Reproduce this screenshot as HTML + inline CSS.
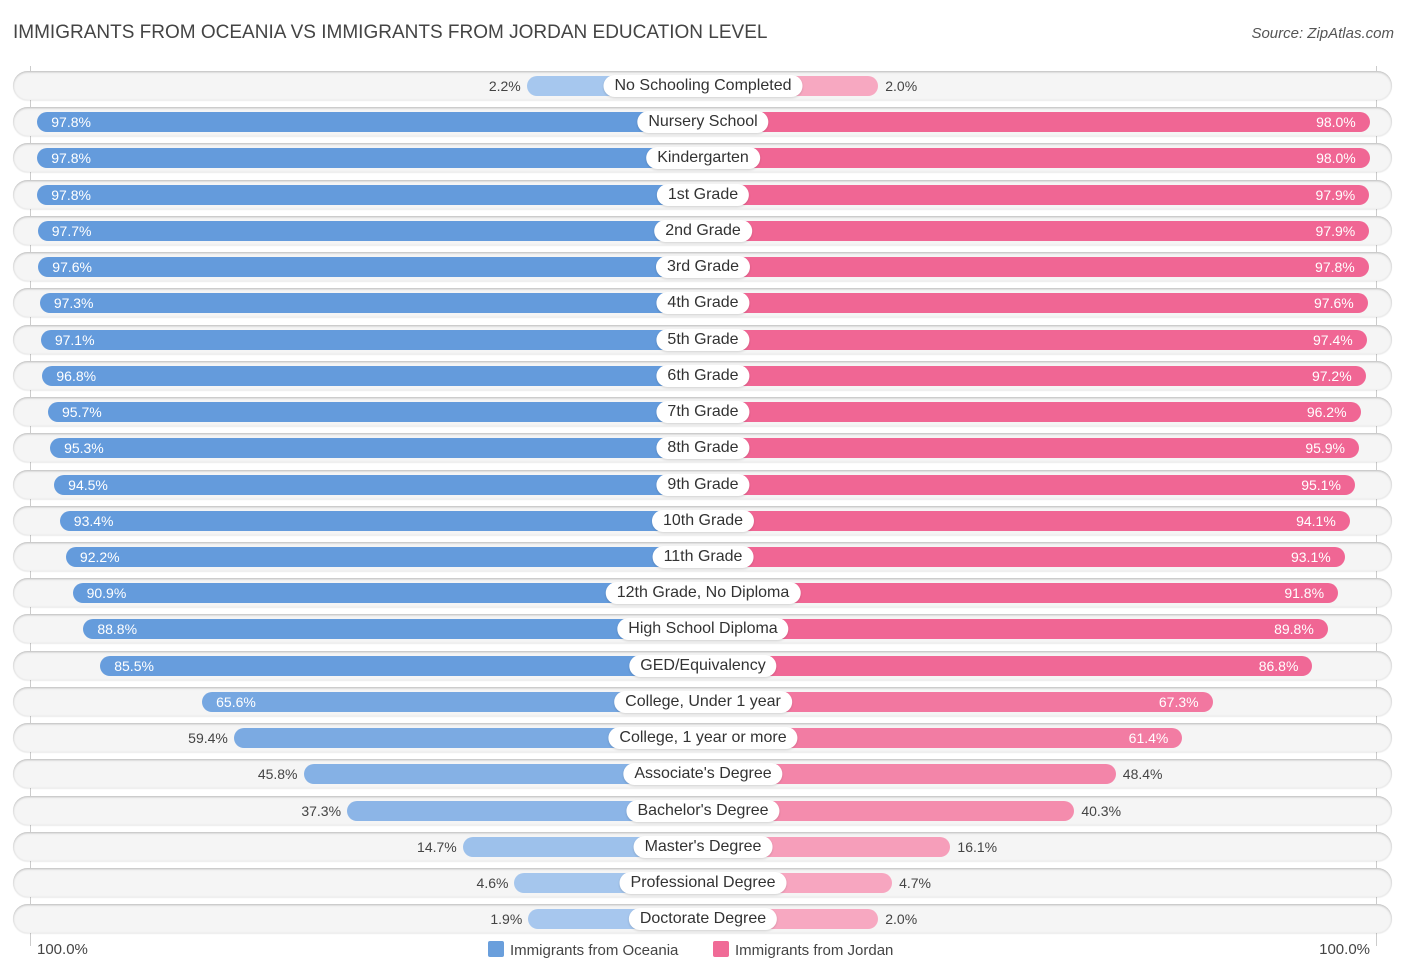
<!DOCTYPE html>
<html><head><meta charset="utf-8">
<style>
body{margin:0;width:1406px;height:975px;background:#fff;font-family:"Liberation Sans",sans-serif;position:relative;overflow:hidden}
.title{position:absolute;left:13px;top:22px;font-size:19px;color:#444}
.src{position:absolute;right:12px;top:25px;font-size:15px;color:#555;font-style:italic}
.vline{position:absolute;top:66px;height:880px;width:1px;background:#ccc}
.row{position:absolute;left:13px;width:1379px;height:29px;border-radius:15px;background:#f5f5f5;box-shadow:0 1px 2px rgba(0,0,0,.25) inset,0 1px 1px rgba(0,0,0,.08)}
.bar{position:absolute;height:20px;border-radius:10px}
.lab{position:absolute;height:22px;line-height:22px;background:#fff;border-radius:11px;padding:0 11px;font-size:16px;color:#333;transform:translateX(-50%);white-space:nowrap;box-shadow:0 1px 2px rgba(0,0,0,.15)}
.val{position:absolute;font-size:14px;line-height:20px;color:#444}
.in{color:#fff}
.foot{position:absolute;top:941px;font-size:15px;color:#444}
.sw{display:inline-block;width:16px;height:16px;vertical-align:-2px;margin-right:6px;border-radius:2px}
</style></head><body>
<div class="title">IMMIGRANTS FROM OCEANIA VS IMMIGRANTS FROM JORDAN EDUCATION LEVEL</div>
<div class="src">Source: ZipAtlas.com</div>
<div class="vline" style="left:30px"></div>
<div class="vline" style="left:1376px"></div>
<div id="chart"></div>
<div class="foot" style="left:37px">100.0%</div>
<div class="foot" style="right:36px">100.0%</div>
<div class="foot" style="left:488px"><span class="sw" style="background:#6a9fdc"></span>Immigrants from Oceania</div>
<div class="foot" style="left:713px"><span class="sw" style="background:#f06b97"></span>Immigrants from Jordan</div>
<script>
const categories=["No Schooling Completed","Nursery School","Kindergarten","1st Grade","2nd Grade","3rd Grade","4th Grade","5th Grade","6th Grade","7th Grade","8th Grade","9th Grade","10th Grade","11th Grade","12th Grade, No Diploma","High School Diploma","GED/Equivalency","College, Under 1 year","College, 1 year or more","Associate's Degree","Bachelor's Degree","Master's Degree","Professional Degree","Doctorate Degree"];
const oceania=[2.2,97.8,97.8,97.8,97.7,97.6,97.3,97.1,96.8,95.7,95.3,94.5,93.4,92.2,90.9,88.8,85.5,65.6,59.4,45.8,37.3,14.7,4.6,1.9];
const jordan=[2.0,98.0,98.0,97.9,97.9,97.8,97.6,97.4,97.2,96.2,95.9,95.1,94.1,93.1,91.8,89.8,86.8,67.3,61.4,48.4,40.3,16.1,4.7,2.0];
const CX=703,BASE=165,K=5.12;
function len(v){return BASE+v*K;}
function rowY(i){return 86+i*36.23;}
function mix(a,b,t){return 'rgb('+a.map((x,j)=>Math.round(x+(b[j]-x)*t)).join(',')+')';}
const c=document.getElementById('chart');
categories.forEach((cat,i)=>{
  const y=rowY(i);
  const r=document.createElement('div');r.className='row';r.style.top=(y-15)+'px';
  
  
  c.appendChild(r);
  const tL=Math.min(1,oceania[i]/90),tR=Math.min(1,jordan[i]/90);
  const bl=document.createElement('div');bl.className='bar';
  const lw=len(oceania[i]);
  bl.style.cssText+='left:'+(CX-lw)+'px;width:'+lw+'px;top:'+(y-10)+'px;background:'+mix([168,200,238],[100,155,220],tL);
  
  
  c.appendChild(bl);
  const br=document.createElement('div');br.className='bar';
  const rw=len(jordan[i]);
  br.style.cssText+='left:'+CX+'px;width:'+rw+'px;top:'+(y-10)+'px;background:'+mix([247,170,194],[240,102,148],tR);
  
  
  c.appendChild(br);
  const vl=document.createElement('div');vl.className='val';vl.style.top=(y-10)+'px';
  vl.textContent=oceania[i].toFixed(1)+'%';
  if(oceania[i]>60){vl.classList.add('in');vl.style.left=(CX-lw+14)+'px';}
  else{vl.style.right=(1406-(CX-lw)+6)+'px';}
  
  
  c.appendChild(vl);
  const vr=document.createElement('div');vr.className='val';vr.style.top=(y-10)+'px';
  vr.textContent=jordan[i].toFixed(1)+'%';
  if(jordan[i]>60){vr.classList.add('in');vr.style.right=(1406-(CX+rw)+14)+'px';}
  else{vr.style.left=(CX+rw+7)+'px';}
  
  
  c.appendChild(vr);
  const lb=document.createElement('div');lb.className='lab';lb.style.left=CX+'px';lb.style.top=(y-11)+'px';
  lb.textContent=cat;
  
  
  c.appendChild(lb);
});
</script>
</body></html>
